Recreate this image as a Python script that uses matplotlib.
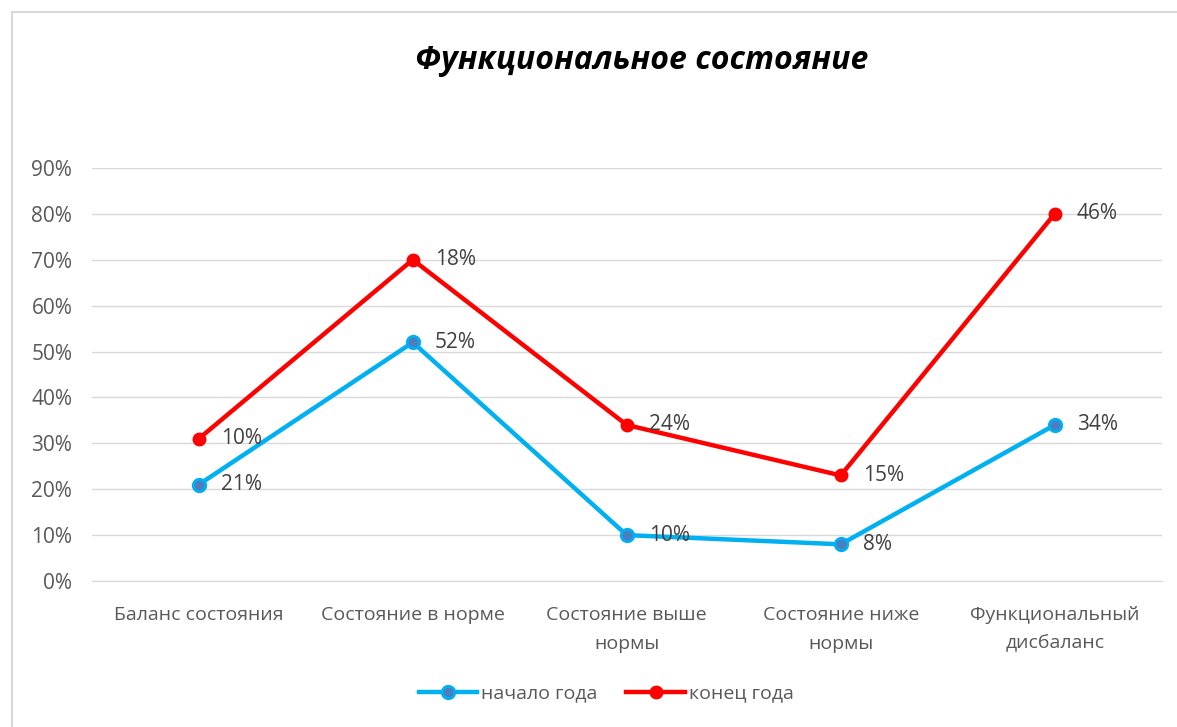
import numpy as np
import matplotlib.pyplot as plt
from matplotlib.patches import Rectangle

plt.rcParams['font.family'] = ['Open Sans', 'DejaVu Sans']

# Данные
categories = ["Баланс состояния", "Состояние в норме", "Состояние выше\nнормы",
              "Состояние ниже\nнормы", "Функциональный\nдисбаланс"]
start_year = [21, 52, 10, 8, 34]      # начало года
end_year = [10, 18, 24, 15, 46]       # конец года (накопительно поверх начала)
yticks = [0, 10, 20, 30, 40, 50, 60, 70, 80, 90]

x = np.arange(len(categories))
blue = np.array(start_year) / 100
red = blue + np.array(end_year) / 100

fig = plt.figure(figsize=(11.77, 7.27), dpi=100)
ax = fig.add_axes([0.078, 0.2008, 0.909, 0.5682])

# рамка области диаграммы
fig.patches.append(Rectangle((12 / 1177, -0.05), 1.1, 1 - 12 / 727 + 0.05,
                             transform=fig.transFigure, fill=False,
                             edgecolor="#d9d9d9", linewidth=1.5))

ax.plot(x, blue, color="#00B0F0", linewidth=3.2, marker="o", markersize=9,
        markerfacecolor="#4a7ec0", markeredgecolor="#00B0F0", markeredgewidth=2,
        label="начало года", zorder=3)
ax.plot(x, red, color="#FF0000", linewidth=3.2, marker="o", markersize=9,
        markerfacecolor="#FF0000", markeredgecolor="#FF0000",
        label="конец года", zorder=3)

for i in range(len(x)):
    ax.annotate(f"{start_year[i]}%", (x[i], blue[i]), xytext=(16, 0),
                textcoords="offset points", va="center", ha="left",
                fontsize=15, color="#404040")
    ax.annotate(f"{end_year[i]}%", (x[i], red[i]), xytext=(16, 0),
                textcoords="offset points", va="center", ha="left",
                fontsize=15, color="#404040")

ax.set_xlim(-0.5, len(x) - 0.5)
ax.set_ylim(0, 0.9)
ax.set_yticks([v / 100 for v in yticks])
ax.set_yticklabels([f"{v}%" for v in yticks], fontsize=15, color="#595959")
ax.set_xticks(x)
ax.set_xticklabels(categories, fontsize=14, color="#595959", linespacing=1.75)
ax.tick_params(length=0)
ax.tick_params(axis="y", pad=14)
ax.tick_params(axis="x", pad=18)
ax.grid(axis="y", color="#d9d9d9", linewidth=1)
ax.set_axisbelow(True)
for s in ["top", "right", "left"]:
    ax.spines[s].set_visible(False)
ax.spines["bottom"].set_color("#d9d9d9")

fig.text(0.545, 0.917, "Функциональное состояние", ha="center", va="center",
         fontsize=23, fontweight="bold", style="italic", color="black")

fig.legend(loc="center", bbox_to_anchor=(0.515, 0.046), ncol=2, frameon=False,
           fontsize=14, handlelength=3.0, columnspacing=1.5, handletextpad=0.2,
           labelcolor="#595959")

fig.savefig("out.png", dpi=100)
